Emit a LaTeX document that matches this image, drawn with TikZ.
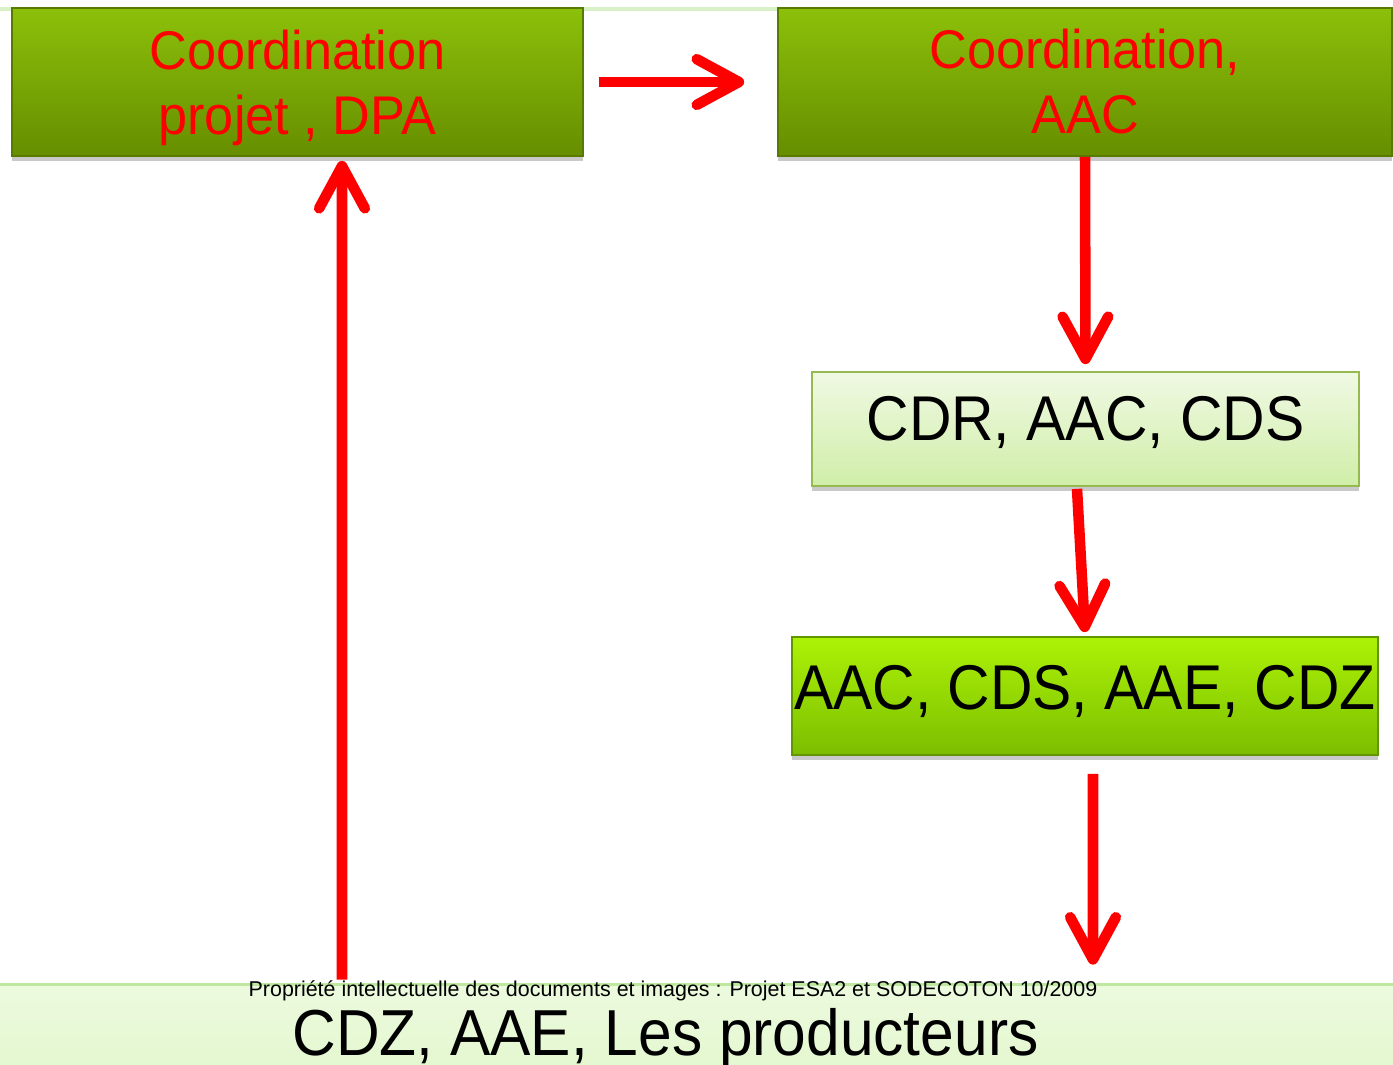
\documentclass[tikz,border=0pt]{standalone}
\usepackage{fontspec}
\setmainfont{Liberation Sans}
\newfontfamily\topfont[FakeStretch=0.96]{Liberation Sans}
\newfontfamily\narrowfont[FakeStretch=0.93]{Liberation Sans}
\usetikzlibrary{arrows.meta,calc,shadows}
\definecolor{darktop}{RGB}{140,192,10}
\definecolor{darkbot}{RGB}{102,142,0}
\definecolor{darkedge}{RGB}{88,122,0}
\definecolor{lighttop}{RGB}{240,249,228}
\definecolor{lightbot}{RGB}{208,238,168}
\definecolor{lightedge}{RGB}{150,185,80}
\definecolor{brighttop}{RGB}{172,242,6}
\definecolor{brightbot}{RGB}{124,190,0}
\definecolor{brightedge}{RGB}{98,150,0}
\definecolor{basetop}{RGB}{236,250,222}
\definecolor{basebot}{RGB}{222,246,198}
\definecolor{baseedge}{RGB}{190,232,160}
\definecolor{myred}{RGB}{255,0,0}

\tikzset{
  boxshadow/.style={drop shadow={shadow xshift=0pt, shadow yshift=-3pt, opacity=0.35, fill=black!60}},
  darkbox/.style={rectangle, top color=darktop, bottom color=darkbot, draw=darkedge, line width=1pt, boxshadow,
    text=myred, align=center, font=\topfont\fontsize{31}{37}\selectfont},
  lightbox/.style={rectangle, top color=lighttop, bottom color=lightbot, draw=lightedge, line width=1pt, boxshadow,
    font=\narrowfont\fontsize{36}{40}\selectfont},
  brightbox/.style={rectangle, top color=brighttop, bottom color=brightbot, draw=brightedge, line width=1pt, boxshadow,
    inner xsep=1pt, font=\narrowfont\fontsize{36}{40}\selectfont},
  basebox/.style={rectangle, top color=basetop, bottom color=basebot, font=\narrowfont\fontsize{37}{40}\selectfont},
  redarrow/.style={draw=myred, line width=6pt, line cap=butt, -{Straight Barb[round, length=24pt, width=26pt]}}
}

\begin{document}
\begin{tikzpicture}[x=0.02cm, y=-0.02cm]
			\clip (0,0) rectangle (1393,1065);
			\fill[white] (0,0) rectangle (1393,1065);
			% Faint line along the top
			\draw[color=baseedge!60!white, line width=2pt] (0,9) -- (1393,9);

			% Draw the boxes
			\node[darkbox, minimum width=11.42cm, minimum height=2.96cm] (dpa) at (297.5,82) {Coordination\\\smash{projet , DPA}};
			\node[darkbox, minimum width=12.28cm, minimum height=2.96cm] (coord) at (1085,82) {Coordination,\\AAC};
			\node[lightbox, minimum width=10.94cm, minimum height=2.28cm, text height=26pt, text depth=12.4pt] (cdr) at (1085.5,429) {CDR, AAC, CDS};
			\node[brightbox, minimum width=11.72cm, minimum height=2.36cm, text height=26pt, text depth=10.2pt] (cdz) at (1085,696) {AAC, CDS, AAE, CDZ};
			\node[basebox, minimum width=29.1cm, minimum height=2.8cm, text height=26pt, text depth=26pt] (prod) at (665.5,1055) {CDZ, AAE, Les producteurs};
			\draw[color=baseedge, line width=1.5pt] (prod.north west) -- (prod.north east);

			% Draw the arrows
			\draw[redarrow] ($(dpa.east)+(15,0)$) -- ($(coord.west)+(-33,0)$);
			\draw[redarrow] (coord.south) -- ($(cdr.north)+(0,-7)$);
			\draw[redarrow] ($(cdr.south)+(-8.5,2)$) -- ($(cdz.north)+(0,-4)$);
			\draw[redarrow] ($(cdz.south)+(8,18)$) -- ($(prod.north)+(427.5,-20)$);
			\draw[redarrow] ($(prod.north)+(-323.5,-5)$) -- ($(dpa.south)+(44.5,4)$);

			% Put the footer text
			\node[font=\fontsize{12.2}{14}\selectfont, inner sep=0pt, anchor=base] (rights) at (673,996) {Propriété intellectuelle des documents et images : Projet ESA2 et SODECOTON 10/2009};
		\end{tikzpicture}
\end{document}
